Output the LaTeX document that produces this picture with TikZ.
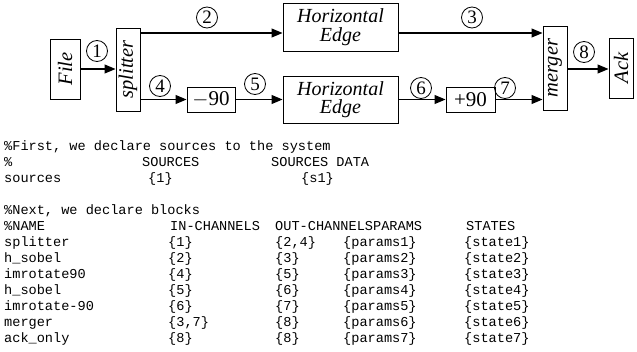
\documentclass[tikz,border=0pt]{standalone}
\usepackage{fontspec}
\setmainfont{Liberation Serif}
\setmonofont{Liberation Mono}
\usepackage{graphicx}
\usetikzlibrary{arrows.meta}
\tikzset{
 box/.style={draw, line width=1pt, inner sep=0pt, font=\fontsize{20}{18.5}\selectfont\itshape, align=center},
 rbox/.style={box, font=\fontsize{20.5}{20.5}\selectfont\itshape},
 nbox/.style={box, font=\fontsize{21}{21}\selectfont},
 lab/.style={draw, circle, line width=0.8pt, inner sep=0pt, minimum size=21pt, font=\fontsize{19}{19}\selectfont},
 arr/.style={line width=1.2pt, -{Triangle[length=11pt,width=9pt]}},
 code/.style={anchor=base west, inner sep=0pt, font=\fontsize{13.6}{16}\selectfont\ttfamily},
}
\begin{document}
\begin{tikzpicture}[x=1pt,y=1pt]
\useasboundingbox (0,0) rectangle (637,-351);
% boxes
\node[rbox, minimum width=30pt, minimum height=60pt] (file) at (65,-69) {\rotatebox{90}{File}};
\node[rbox, minimum width=24pt, minimum height=83pt] (splitter) at (128,-69.5) {\rotatebox{90}{splitter}};
\node[box, minimum width=115pt, minimum height=48pt] (he1) at (340.5,-27) {Horizontal\\Edge};
\node[box, minimum width=115pt, minimum height=47pt] (he2) at (340.5,-99.5) {Horizontal\\Edge};
\node[nbox, minimum width=48pt, minimum height=25pt] (m90) at (211,-99.5) {$-$90};
\node[nbox, minimum width=49pt, minimum height=25pt] (p90) at (470.5,-99.5) {+90};
\node[rbox, minimum width=24pt, minimum height=84pt] (merger) at (555,-68) {\rotatebox{90}{merger}};
\node[rbox, minimum width=24pt, minimum height=60pt] (ack) at (621,-68) {\rotatebox{90}{Ack}};
% helper levels
\coordinate (top) at (0,-33);
\coordinate (mid) at (0,-69);
% connectors
\draw[arr] (file.east |- mid) -- (splitter.west |- mid);
\draw[arr] (splitter.east |- top) -- (he1.west |- top);
\draw[arr] (splitter.east |- m90.west) -- (m90.west);
\draw[arr] (m90.east) -- (he2.west |- m90.east);
\draw[arr] (he1.east |- top) -- (merger.west |- top);
\draw[arr] (he2.east |- p90.west) -- (p90.west);
\draw[arr] (p90.east) -- (merger.west |- p90.east);
\draw[arr] (merger.east |- mid) -- (ack.west |- mid);
% channel labels
\node[lab] (c1) at (97,-51) {1};
\node[lab] (c2) at (207,-17.5) {2};
\node[lab] (c3) at (472,-17.5) {3};
\node[lab] (c4) at (160,-86) {4};
\node[lab] (c5) at (255,-84) {5};
\node[lab] (c6) at (421,-88) {6};
\node[lab] (c7) at (505,-88) {7};
\node[lab] (c8) at (584,-52) {8};
% code text
\node[code] (t1) at (4,-150) {\%First, we declare sources to the system};
\node[code] (t2a) at (4,-166) {\%};
\node[code] (t2b) at (142,-166) {SOURCES};
\node[code] (t2c) at (271,-166) {SOURCES DATA};
\node[code] (t3a) at (4,-182) {sources};
\node[code] (t3b) at (148,-182) {\{1\}};
\node[code] (t3c) at (301,-182) {\{s1\}};
\node[code] (t5) at (4,-214) {\%Next, we declare blocks};
\node[code] (h1) at (4,-230) {\%NAME};
\node[code] (h2) at (170,-230) {IN-CHANNELS};
\node[code] (h3) at (275,-230) {OUT-CHANNELSPARAMS};
\node[code] (h4) at (466,-230) {STATES};
\foreach \nm/\ia/\ob/\k [count=\i] in {splitter/1/{2,4}/1, h\_sobel/2/3/2, imrotate90/4/5/3, h\_sobel/5/6/4, imrotate-90/6/7/5, merger/{3,7}/8/6, ack\_only/8/8/7} {
  \pgfmathsetmacro\yy{-246-16*(\i-1)}
  \node[code] (n\i) at (4,\yy) {\nm};
  \node[code] (i\i) at (168,\yy) {\{\ia\}};
  \node[code] (o\i) at (275,\yy) {\{\ob\}};
  \node[code] (p\i) at (343,\yy) {\{params\k\}};
  \node[code] (s\i) at (464,\yy) {\{state\k\}};
}
\end{tikzpicture}
\end{document}
